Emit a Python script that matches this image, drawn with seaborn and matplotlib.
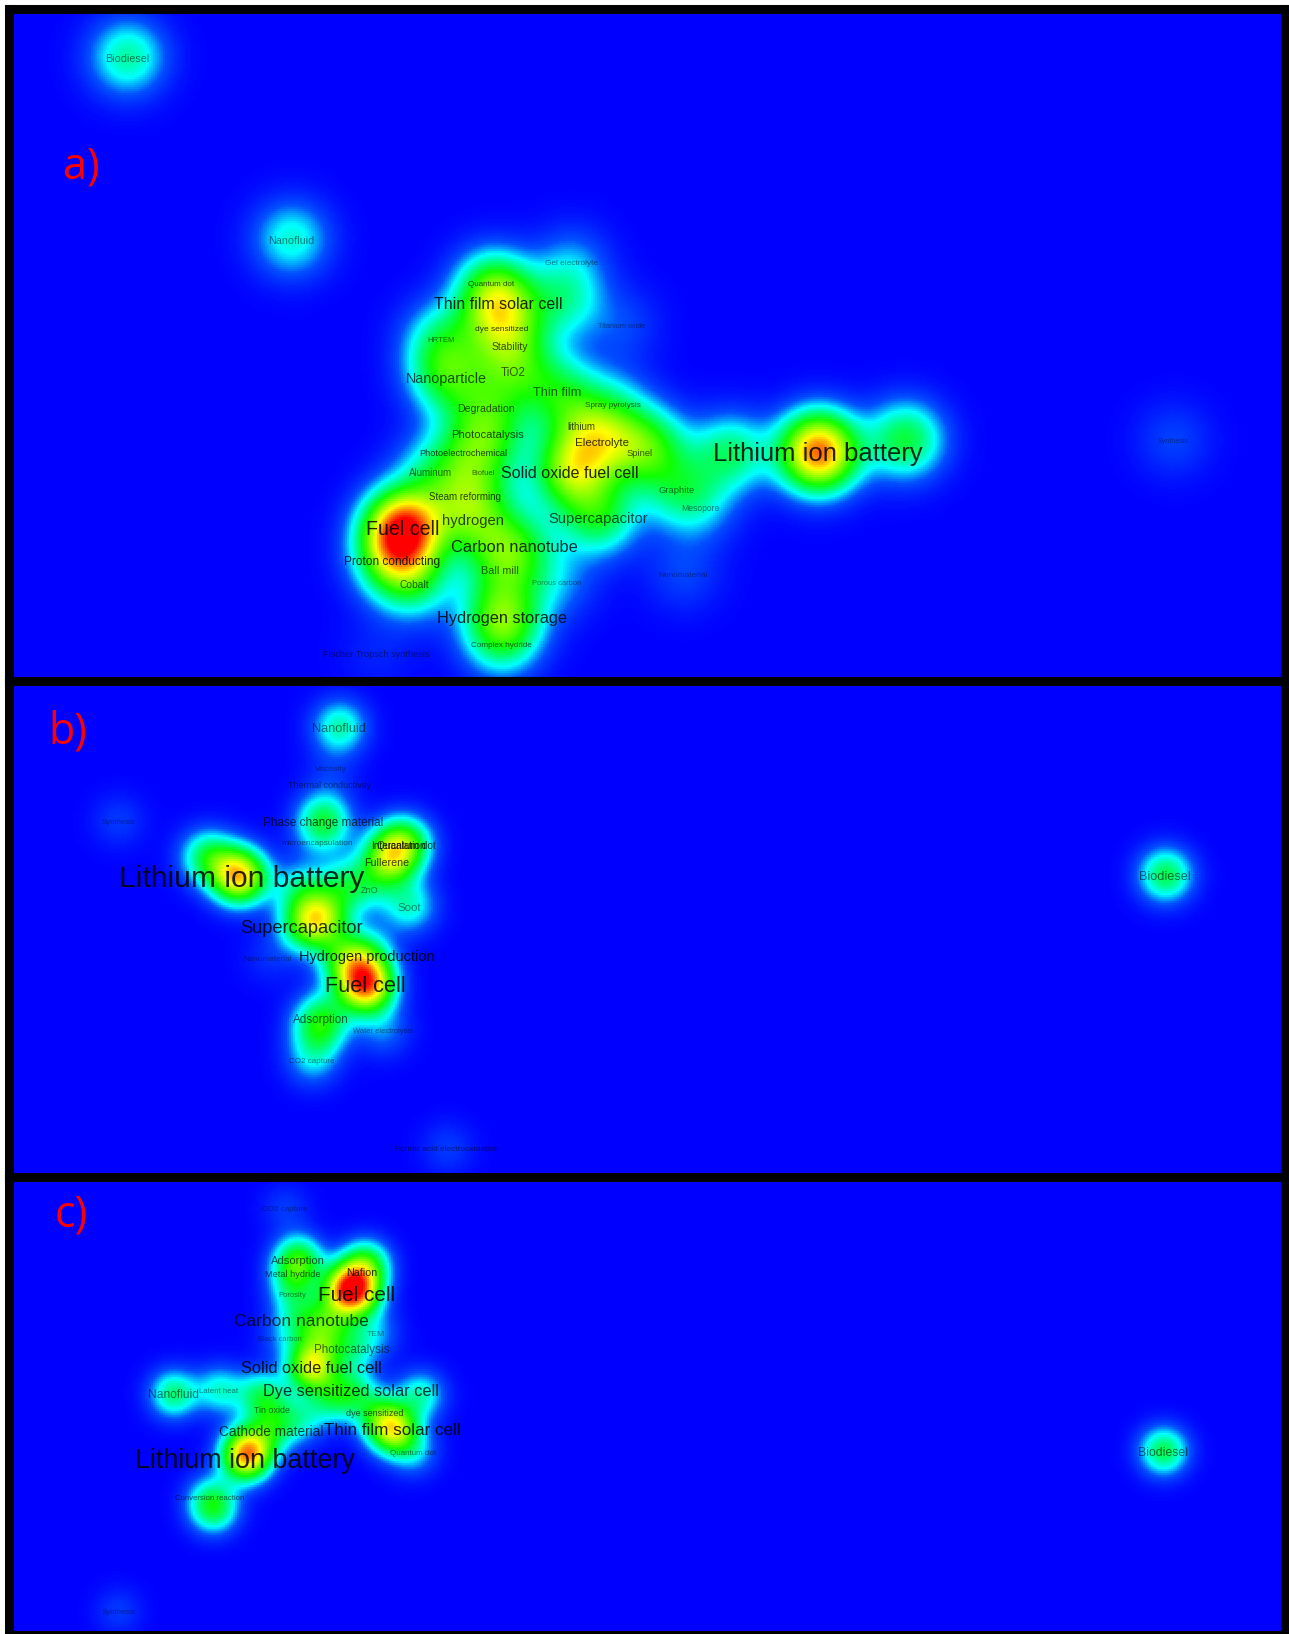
import matplotlib

matplotlib.use("Agg")
import matplotlib.pyplot as plt
import numpy as np
import seaborn as sns
from matplotlib.colors import LinearSegmentedColormap
from matplotlib.font_manager import FontProperties
from matplotlib.textpath import TextPath

FIG_W, FIG_H = 1289, 1634
STEP = 2

# term maps: label, map position, density weight
# an empty label is a term that has no visible text in the map
terms_a = ["Biodiesel", "Nanofluid", "Gel electrolyte", "Quantum dot", "Thin film solar cell", "dye sensitized",
           "Stability", "HRTEM", "Titanium oxide", "Nanoparticle", "TiO2", "Thin film", "Spray pyrolysis",
           "Degradation", "lithium", "Photocatalysis", "Electrolyte", "Spinel", "Photoelectrochemical", "Aluminum",
           "Biofuel", "Solid oxide fuel cell", "Graphite", "Steam reforming", "Mesopore", "Supercapacitor",
           "hydrogen", "Fuel cell", "Carbon nanotube", "Proton conducting", "Ball mill", "Cobalt", "Porous carbon",
           "Nanomaterial", "Hydrogen storage", "Complex hydride", "Fischer Tropsch synthesis",
           "Lithium ion battery", "Synthesis", "", "", "", ""]
x_a = [127, 291, 572, 491, 498, 502, 510, 441, 622, 446, 513, 557, 613, 486, 581, 488, 602, 640, 463, 431,
       483, 570, 677, 465, 700, 598, 473, 403, 514, 392, 500, 414, 557, 683, 502, 501, 376, 818, 1173,
       905, 730, 563, 651]
y_a = [57, 239, 262, 283, 303, 328, 345, 339, 325, 377, 371, 391, 404, 407, 426, 434, 442, 452, 452, 471,
       472, 472, 489, 495, 507, 517, 520, 528, 546, 560, 569, 583, 582, 574, 617, 644, 653, 452, 440,
       440, 453, 302, 443]
weight_a = [.27, .23, .12, .22, .40, .16, .20, .24, .08, .34, .22, .28, .14, .18, .20, .26, .32, .20, .14, .18,
            .14, .50, .22, .20, .12, .34, .30, .90, .32, .36, .20, .24, .12, .08, .42, .18, .04, .88, .08,
            .36, .30, .22, .22]
label_w_a = [42, 44, 52, 46, 127, 52, 36, 26, 47, 79, 24, 47, 55, 56, 27, 71, 52, 25, 86, 43,
             22, 135, 35, 71, 37, 98, 60, 70, 125, 94, 36, 29, 48, 48, 128, 60, 105, 207, 31, 0, 0, 0, 0]

terms_b = ["Nanofluid", "Viscosity", "Thermal conductivity", "Phase change material", "Synthesis",
           "microencapsulation", "Intercalation", "Quantum dot", "Fullerene", "Lithium ion battery", "ZnO", "Soot",
           "Supercapacitor", "Hydrogen production", "Nanomaterial", "Fuel cell", "Adsorption", "Water electrolysis",
           "CO2 capture", "Formic acid electrooxidation", "Biodiesel", "", "", "", "", "", "", ""]
x_b = [339, 331, 329, 323, 118, 317, 398, 406, 387, 242, 370, 409, 302, 367, 268, 365, 321, 383, 312, 447, 1165,
       207, 320, 318, 300, 345, 345, 235]
y_b = [727, 768, 784, 821, 821, 842, 844, 844, 861, 877, 889, 906, 927, 955, 958, 985, 1018, 1030, 1060, 1148, 875,
       857, 918, 1030, 890, 960, 885, 875]
weight_b = [.26, .03, .03, .34, .07, .05, .24, .24, .44, .35, .10, .23, .26, .22, .05, .85, .24, .12, .16, .07, .34,
            .32, .52, .20, .22, .35, .25, .42]
label_w_b = [52, 32, 82, 118, 33, 70, 53, 58, 43, 243, 17, 23, 122, 133, 47, 78, 55, 59, 45, 102, 50,
             0, 0, 0, 0, 0, 0, 0]

terms_c = ["CO2 capture", "Adsorption", "Metal hydride", "Nafion", "Porosity", "Fuel cell", "Carbon nanotube", "TEM",
           "Black carbon", "Photocatalysis", "Solid oxide fuel cell", "Latent heat", "Dye sensitized solar cell",
           "Nanofluid", "Tin oxide", "dye sensitized", "Cathode material", "Thin film solar cell",
           "Lithium ion battery", "Quantum dot", "Conversion reaction", "Biodiesel", "Synthesis",
           "", "", "", "", "", "", "", "", "", ""]
x_c = [285, 298, 293, 362, 292, 357, 301, 376, 280, 352, 311, 219, 351, 173, 272, 375, 271, 392, 245, 413, 210,
       1163, 118, 366, 345, 247, 213, 260, 330, 420, 300, 320, 330]
y_c = [1208, 1259, 1273, 1271, 1294, 1294, 1320, 1333, 1338, 1349, 1367, 1390, 1390, 1394, 1409, 1412, 1431, 1429,
       1459, 1452, 1497, 1451, 1611, 1262, 1288, 1450, 1510, 1395, 1400, 1395, 1420, 1340, 1320]
weight_c = [.07, .34, .18, .24, .16, .50, .20, .12, .08, .20, .62, .22, .24, .30, .12, .22, .22, .64, .40, .16, .16,
            .34, .07, .22, .55, .48, .28, .26, .22, .24, .18, .22, .25]
label_w_c = [45, 53, 54, 29, 27, 74, 133, 17, 42, 74, 138, 38, 173, 49, 35, 56, 102, 135, 217, 46, 68, 48, 33,
             0, 0, 0, 0, 0, 0, 0, 0, 0, 0]

panel_letters = ["a)", "b)", "c)"]

density_cmap = LinearSegmentedColormap.from_list(
    "density", [(0, "#0000ff"), (.1, "#0050ff"), (.2, "#00ffff"), (.3, "#00ff80"), (.42, "#10ff00"),
                (.72, "#ffff00"), (1, "#ff0000")])


def font_size(label, width_px):
    # size the label so it spans the same pixel width as in the picture
    prop = FontProperties(family="Liberation Sans")
    ext = TextPath((0, 0), label, size=100, prop=prop).get_extents()
    return 100 * width_px * 0.72 / ext.width


def draw_panel(fig, box, terms, xs, ys, weights, widths, sigma, letter, letter_xy):
    x0, y0, x1, y1 = box
    ax = fig.add_axes([x0 / FIG_W, 1 - y1 / FIG_H, (x1 - x0) / FIG_W, (y1 - y0) / FIG_H])
    gx = np.arange(x0 + STEP / 2, x1, STEP)
    gy = np.arange(y0 + STEP / 2, y1, STEP)
    xx, yy = np.meshgrid(gx, gy)
    dens = np.zeros_like(xx)
    for px, py, w in zip(xs, ys, weights):
        dens += w * np.exp(-((xx - px) ** 2 + (yy - py) ** 2) / (2 * sigma ** 2))

    sns.heatmap(dens, ax=ax, cmap=density_cmap, vmin=0, vmax=1, cbar=False,
                xticklabels=False, yticklabels=False, rasterized=True)

    for label, px, py, w_px in zip(terms, xs, ys, widths):
        if not label:
            continue
        tx, ty = (px - x0) / STEP, (py + 1.5 - y0) / STEP
        here = dens[int(np.clip(ty, 0, dens.shape[0] - 1)), int(np.clip(tx, 0, dens.shape[1] - 1))]
        ax.text(tx, ty, label, ha="center", va="center", color="black", family="Liberation Sans",
                fontsize=font_size(label, w_px), alpha=min(.85, .3 + .55 * here + w_px / 600))

    ax.text((letter_xy[0] - x0) / STEP, (letter_xy[1] - y0) / STEP, letter, color="#ff0000", family="Open Sans",
            fontsize=31, ha="center", va="center")

    for spine in ax.spines.values():
        spine.set_visible(True)
        spine.set_color("black")
        spine.set_linewidth(6.5)
    return ax


sns.set_theme(style="white")
fig = plt.figure(figsize=(FIG_W / 100, FIG_H / 100), dpi=100, facecolor="white")

draw_panel(fig, (8.5, 9, 1284.5, 681), terms_a, x_a, y_a, weight_a, label_w_a, 27, panel_letters[0], (81, 167))
draw_panel(fig, (8.5, 681, 1284.5, 1177), terms_b, x_b, y_b, weight_b, label_w_b, 19, panel_letters[1], (68, 732))
draw_panel(fig, (8.5, 1177, 1284.5, 1635), terms_c, x_c, y_c, weight_c, label_w_c, 17, panel_letters[2], (71, 1215))

fig.savefig("out.png", dpi=100, facecolor="white")
plt.close(fig)
